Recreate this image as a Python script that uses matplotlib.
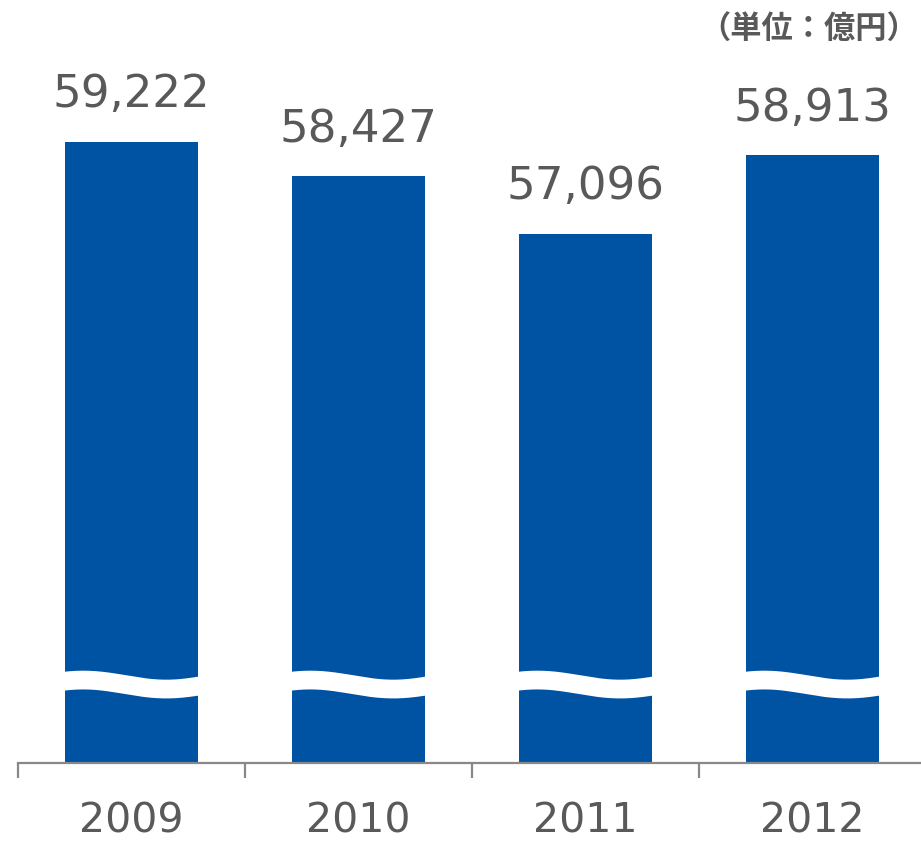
import numpy as np
import matplotlib.pyplot as plt
from matplotlib.ticker import FixedLocator

plt.rcParams['font.family'] = ['DejaVu Sans', 'Noto Sans CJK JP']

years = ['2009', '2010', '2011', '2012']
sales = [59222, 58427, 57096, 58913]
unit_label = '（単位：億円）'

bar_color = '#0052A2'
text_color = '#595959'

fig = plt.figure(figsize=(9.21, 8.41), dpi=100)
ax = fig.add_axes([18 / 921, 78 / 841, 903 / 921, 763 / 841])

x = np.arange(len(years))
ax.bar(x, sales, width=0.59, color=bar_color, zorder=2)

ax.set_xlim(-0.5, -0.5 + 903 / 227)
ax.set_ylim(44870, 62504)

# 値ラベル
for xi, v in zip(x, sales):
    ax.annotate(f'{v:,}', (xi, v), xytext=(0, 25), textcoords='offset points',
                ha='center', va='baseline', fontsize=32.5, color=text_color)

# 波線（省略記号）
break_level = 46683
amp = 104
t = np.linspace(-0.06, 1.06, 200)
for xi in x:
    xs = xi - 0.295 + t * 0.59
    ys = break_level + amp * np.cos(np.pi * (t - 0.14) / 0.62)
    ax.plot(xs, ys, color='white', lw=13.5, solid_capstyle='butt', zorder=3)

# 軸
for s in ['top', 'right', 'left']:
    ax.spines[s].set_visible(False)
ax.spines['bottom'].set_color('#888888')
ax.spines['bottom'].set_linewidth(1.6)
ax.set_yticks([])
ax.xaxis.set_major_locator(FixedLocator(np.arange(len(years) + 1) - 0.5))
ax.xaxis.set_minor_locator(FixedLocator(x))
ax.set_xticklabels([], minor=False)
ax.set_xticklabels(years, minor=True)
ax.tick_params(axis='x', which='major', length=11, width=1.6, color='#888888')
ax.tick_params(axis='x', which='minor', length=0, pad=28, labelsize=29.5,
               labelcolor=text_color)

fig.text(918 / 921, 1 - 30 / 841, unit_label, ha='right', va='center',
         fontsize=22.5, fontweight='bold', color=text_color,
         family=['Noto Sans CJK JP', 'DejaVu Sans'])

fig.savefig('out.png', dpi=100)
